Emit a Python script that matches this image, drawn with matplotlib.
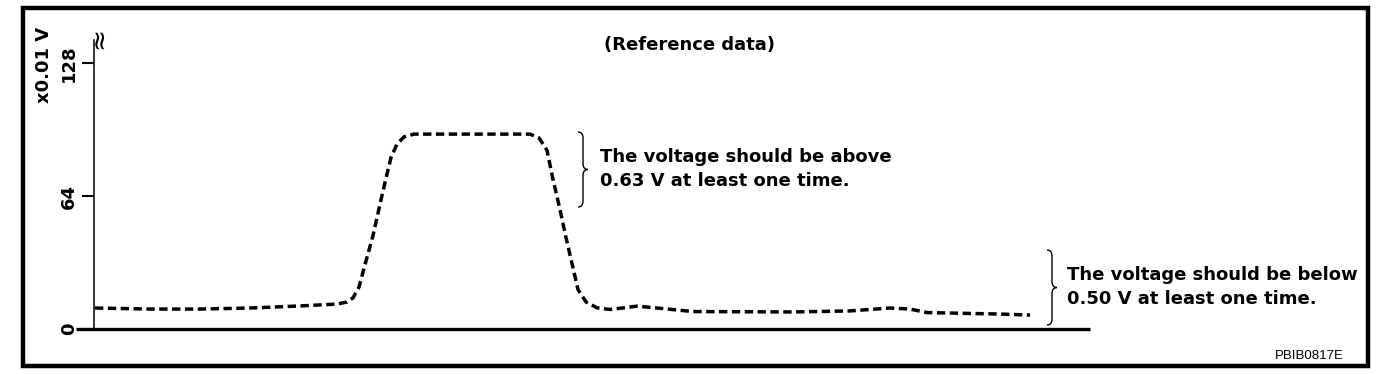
import matplotlib
matplotlib.use("Agg")
from matplotlib import pyplot as plt
from matplotlib.path import Path
from matplotlib.patches import PathPatch, Rectangle


W, H = 1392, 374

# time axis (arbitrary units) and sensor voltage (x0.01 V)
time = [0.1, 5.6, 10.6, 15.6, 20.6, 24.3, 25.3, 25.9, 26.5, 27.1, 27.9, 28.6,
        29.1, 29.7, 30.3, 31.0, 32.0, 35.6, 43.6, 44.5, 45.3, 45.9, 46.6, 47.2,
        47.8, 48.4, 49.2, 50.3, 51.6, 53.0, 54.3, 56.3, 59.9, 69.9, 75.6, 79.6,
        81.6, 83.3, 90.6, 93.6]
voltage = [10.1, 9.6, 9.6, 10.1, 11.1, 12.0, 13.0, 15.0, 20.2, 31.0, 45.0, 60.0,
           70.5, 82.5, 89.0, 92.5, 93.8, 93.8, 93.8, 92.0, 86.0, 72.0, 57.5, 44.0,
           31.5, 19.0, 13.0, 10.2, 9.4, 10.2, 11.0, 10.1, 8.4, 8.2, 8.7, 10.1,
           9.6, 7.9, 7.2, 6.7]

yticks = [0, 64, 128]
ytick_labels = ["0", "64", "128"]

note_above = "The voltage should be above\n0.63 V at least one time."
note_below = "The voltage should be below\n0.50 V at least one time."

FONT = dict(family="DejaVu Sans", weight="bold", size=13)


def fx(px):
    return px / W


def fy(py):
    return 1 - py / H


def brace(fig, x0, top, bottom, w=5):
    # right-pointing curly brace, pixel coords measured from top-left
    mid = (top + bottom) / 2.0
    r = 6
    pts = [
        (x0, top), (x0 + w, top), (x0 + w, top + r),
        (x0 + w, mid - r),
        (x0 + w, mid), (x0 + 2 * w, mid), (x0 + 2 * w, mid),
        (x0 + w, mid), (x0 + w, mid + r),
        (x0 + w, bottom - r),
        (x0 + w, bottom), (x0, bottom),
    ]
    codes = [Path.MOVETO, Path.CURVE3, Path.CURVE3,
             Path.LINETO,
             Path.CURVE3, Path.CURVE3, Path.MOVETO,
             Path.CURVE3, Path.CURVE3,
             Path.LINETO,
             Path.CURVE3, Path.CURVE3]
    verts = [(fx(x), fy(y)) for x, y in pts]
    patch = PathPatch(Path(verts, codes), fill=False, lw=1.0, color="black",
                      transform=fig.transFigure)
    fig.add_artist(patch)


def main():
    fig = plt.figure(figsize=(W / 100, H / 100), dpi=100)
    ax = fig.add_axes([fx(94), fy(329), fx(1090) - fx(94), fy(40) - fy(329)])

    ax.plot(time, voltage, color="black", lw=2.5, linestyle=(0, (2.4, 1.3)))

    ax.set_xlim(0, 99.6)
    ax.set_ylim(0, 139.1)
    for side in ["top", "right", "bottom"]:
        ax.spines[side].set_visible(False)
    ax.spines["left"].set_linewidth(1.1)

    # thick baseline running slightly past the y axis
    ax.plot([-1.8, 99.6], [0, 0], color="black", lw=2.4, clip_on=False,
            solid_capstyle="butt")

    ax.set_xticks([])
    ax.set_yticks(yticks)
    ax.set_yticklabels(ytick_labels, rotation=90, va="center", **FONT)
    ax.tick_params(axis="y", length=8.6, width=1.5, pad=3)

    # axis break mark and unit
    fig.text(fx(99), fy(38), "≈", rotation=90, ha="center", va="center",
             family="DejaVu Sans", size=19)
    fig.text(fx(44), fy(65), "x0.01 V", rotation=90, ha="center", va="center", **FONT)

    fig.text(fx(690), fy(45), "(Reference data)", ha="center", va="center", **FONT)

    brace(fig, 578, 132, 207)
    fig.text(fx(600), fy(169), note_above, ha="left", va="center",
             linespacing=1.38, **FONT)

    brace(fig, 1047, 250, 325)
    fig.text(fx(1067), fy(287), note_below, ha="left", va="center",
             linespacing=1.38, **FONT)

    fig.text(fx(1309), fy(356), "PBIB0817E", ha="center", va="center",
             family="Liberation Sans", size=9.5)

    frame = Rectangle((fx(22.5), fy(365.5)), fx(1367.5) - fx(22.5),
                      fy(7.5) - fy(365.5), fill=False, lw=3.2, color="black",
                      transform=fig.transFigure)
    fig.add_artist(frame)

    fig.savefig("out.png", dpi=100)


if __name__ == "__main__":
    main()
